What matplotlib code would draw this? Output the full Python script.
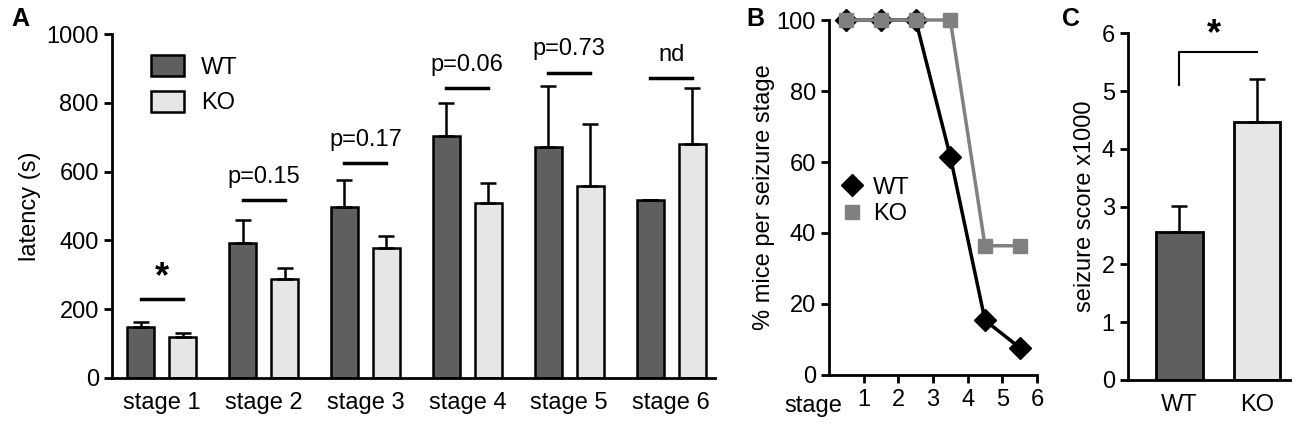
import numpy as np
import matplotlib
matplotlib.use('Agg')
import matplotlib.pyplot as plt
from matplotlib.lines import Line2D

plt.rcParams['font.family'] = ['Liberation Sans', 'DejaVu Sans']
plt.rcParams['font.size'] = 17

# panel A data
stages = ['stage 1', 'stage 2', 'stage 3', 'stage 4', 'stage 5', 'stage 6']
lat_wt = [149, 391, 496, 704, 671, 516]
lat_wt_err = [15, 68, 80, 94, 179, 0]
lat_ko = [118, 289, 378, 508, 558, 679]
lat_ko_err = [12, 31, 36, 58, 180, 163]
sig_labels = ['*', 'p=0.15', 'p=0.17', 'p=0.06', 'p=0.73', 'nd']
sig_lines = [229, 516, 626, 842, 888, 872]

# panel B data
stage_x = [0.5, 1.5, 2.5, 3.5, 4.5, 5.5]
pct_wt = [100, 100, 100, 61.5, 15.4, 7.7]
pct_ko = [100, 100, 100, 100, 36.4, 36.4]

# panel C data
groups = ['WT', 'KO']
score = [2.57, 4.47]
score_err = [0.44, 0.74]

c_wt = '#5f5f5f'
c_ko = '#e6e6e6'
lw = 1.8
fs = 17

fig = plt.figure(figsize=(13, 4.24), dpi=100)

def style(ax):
    for s in ['top', 'right']:
        ax.spines[s].set_visible(False)
    for s in ['left', 'bottom']:
        ax.spines[s].set_linewidth(2)
    ax.tick_params(width=2, length=6, labelsize=fs)

# ---- A
axA = fig.add_axes([0.0862, 0.1085, 0.55 - 0.0862, 0.8113])
x = np.arange(len(stages))
w = 0.265
off = 0.206
axA.bar(x - off, lat_wt, w, color=c_wt, edgecolor='black', linewidth=lw,
        yerr=[np.zeros(6), lat_wt_err], capsize=6,
        error_kw=dict(elinewidth=lw, capthick=lw), label='WT')
axA.bar(x + off, lat_ko, w, color=c_ko, edgecolor='black', linewidth=lw,
        yerr=[np.zeros(6), lat_ko_err], capsize=6,
        error_kw=dict(elinewidth=lw, capthick=lw), label='KO')
for i in range(len(stages)):
    axA.plot([x[i] - off, x[i] + off], [sig_lines[i], sig_lines[i]], 'k-', lw=2.5)
    if sig_labels[i] == '*':
        axA.text(x[i], sig_lines[i] + 12, '*', ha='center', va='bottom',
                 fontsize=26, fontweight='bold')
    else:
        axA.text(x[i], sig_lines[i] + 35, sig_labels[i], ha='center', va='bottom',
                 fontsize=fs)
axA.set_xlim(-0.486, 5.43)
axA.set_ylim(0, 1000)
axA.set_yticks([0, 200, 400, 600, 800, 1000])
axA.set_xticks(x)
axA.set_xticklabels(stages)
axA.set_ylabel('latency (s)', fontsize=fs)
style(axA)
axA.tick_params(axis='x', length=0, pad=10)
axA.legend(loc='upper left', bbox_to_anchor=(0.03, 1.0), frameon=False,
           fontsize=fs, handlelength=1.4, handleheight=1.0, handletextpad=0.7,
           labelspacing=0.5)
fig.text(0.009, 0.955, 'A', fontsize=18, fontweight='bold', va='center')

# ---- B
axB = fig.add_axes([0.6377, 0.1156, 0.7977 - 0.6377, 0.9528 - 0.1156])
axB.plot(stage_x, pct_wt, '-D', color='black', lw=2.5, ms=11, clip_on=False, label='WT')
axB.plot(stage_x, pct_ko, '-s', color='#808080', lw=2.5, ms=10, clip_on=False, label='KO')
axB.set_xlim(0, 6)
axB.set_ylim(0, 100)
axB.set_xticks([1, 2, 3, 4, 5, 6])
axB.set_yticks([0, 20, 40, 60, 80, 100])
axB.set_ylabel('% mice per seizure stage', fontsize=fs, labelpad=1)
style(axB)
axB.tick_params(axis='x', pad=4)
axB.text(0.065, -0.057, 'stage', transform=axB.transAxes, ha='right', va='top', fontsize=fs)
handles = [Line2D([], [], marker='D', color='black', ls='none', ms=11),
           Line2D([], [], marker='s', color='#808080', ls='none', ms=10)]
axB.legend(handles, ['WT', 'KO'], loc='center left', bbox_to_anchor=(-0.06, 0.49),
           frameon=False, fontsize=fs, handletextpad=0.3, labelspacing=0.2,
           handlelength=1.2)
fig.text(0.574, 0.955, 'B', fontsize=18, fontweight='bold', va='center')

# ---- C
axC = fig.add_axes([0.8677, 0.1038, 0.9923 - 0.8677, 0.9214 - 0.1038])
xc = np.arange(len(groups))
axC.bar(xc, score, 0.6, color=[c_wt, c_ko], edgecolor='black', linewidth=2,
        yerr=[np.zeros(2), score_err], capsize=6,
        error_kw=dict(elinewidth=lw, capthick=lw))
axC.plot([0, 0, 1], [5.11, 5.68, 5.68], 'k-', lw=1.5)
axC.text(0.45, 5.68, '*', ha='center', va='bottom', fontsize=26, fontweight='bold')
axC.set_xlim(-0.665, 0.43 + 1)
axC.set_ylim(0, 6)
axC.set_xticks(xc)
axC.set_xticklabels(groups)
axC.set_yticks(range(7))
axC.set_ylabel('seizure score x1000', fontsize=fs)
style(axC)
axC.tick_params(axis='x', length=0, pad=10)
fig.text(0.817, 0.955, 'C', fontsize=18, fontweight='bold', va='center')

fig.savefig('out.png', dpi=100)
